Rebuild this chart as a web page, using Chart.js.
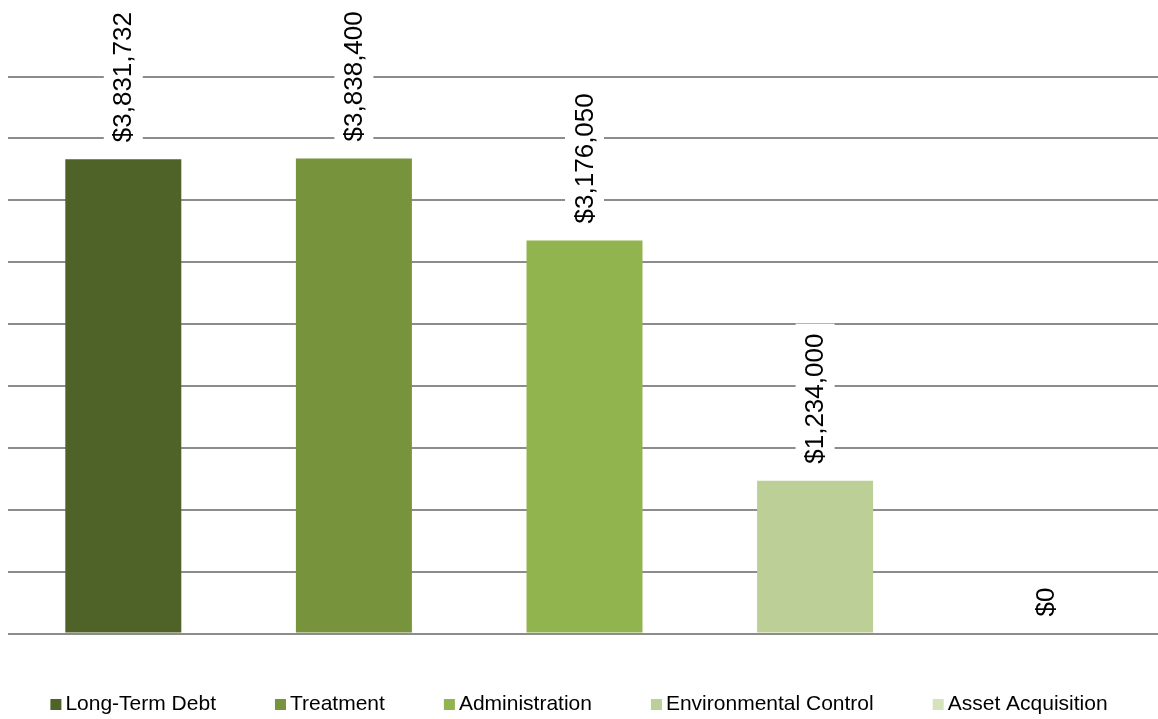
<!DOCTYPE html>
<html><head><meta charset="utf-8">
<script src="https://cdn.jsdelivr.net/npm/chart.js@4/dist/chart.umd.min.js"></script>
<style>
html,body{margin:0;padding:0;background:#fff;overflow:hidden;}
#wrap{position:relative;width:1162px;height:719px;}
</style></head><body>
<div id="wrap"><canvas id="c"></canvas></div>
<script>
const categories = ["Long-Term Debt", "Treatment", "Administration", "Environmental Control", "Asset Acquisition"];
const values = [3831732, 3838400, 3176050, 1234000, 0];
const colors = ["#4F6228", "#77933C", "#92B44E", "#BBCF97", "#D5E3BC"];
const yMin = 0;
const yMax = 4500000;
const yStep = 500000;

const FONT = '"Liberation Sans", Arial, sans-serif';

const valueLabelPlugin = {
  id: 'valueLabels',
  afterDatasetsDraw(chart) {
    const ctx = chart.ctx;
    const meta = chart.getDatasetMeta(0);
    const yScale = chart.scales.y;
    const area = chart.chartArea;
    ctx.save();
    // axis line drawn over the bar bases
    const y0 = Math.round(yScale.getPixelForValue(0));
    ctx.strokeStyle = '#8c8c8c';
    ctx.lineWidth = 2;
    ctx.beginPath();
    ctx.moveTo(area.left, y0);
    ctx.lineTo(area.right, y0);
    ctx.stroke();
    ctx.font = '26px ' + FONT;
    meta.data.forEach((bar, i) => {
      const txt = '$' + values[i].toLocaleString('en-US');
      const w = ctx.measureText(txt).width;
      ctx.save();
      ctx.translate(bar.x, bar.y - 17);
      ctx.rotate(-Math.PI / 2);
      ctx.fillStyle = '#ffffff';
      ctx.fillRect(-10, -19.5, w + 20, 39);
      ctx.fillStyle = '#000000';
      ctx.textAlign = 'left';
      ctx.textBaseline = 'middle';
      ctx.fillText(txt, 0, 1);
      ctx.restore();
    });
    ctx.restore();
  }
};

const legendPlugin = {
  id: 'bottomLegend',
  afterDraw(chart) {
    const ctx = chart.ctx;
    ctx.save();
    ctx.font = '21px ' + FONT;
    const box = 11, tgap = 4, gap = 59;
    const widths = categories.map(t => ctx.measureText(t).width);
    const total = widths.reduce((a, w) => a + box + tgap + w, 0) + gap * (categories.length - 1);
    let x = 579 - total / 2;
    const base = 710;
    categories.forEach((t, i) => {
      ctx.fillStyle = colors[i];
      ctx.fillRect(x, base - 11, box, box);
      ctx.fillStyle = '#000000';
      ctx.textAlign = 'left';
      ctx.textBaseline = 'alphabetic';
      ctx.fillText(t, x + box + tgap, base);
      x += box + tgap + widths[i] + gap;
    });
    ctx.restore();
  }
};

new Chart(document.getElementById('c'), {
  type: 'bar',
  data: {
    labels: categories,
    datasets: [{
      data: values,
      backgroundColor: colors,
      borderWidth: 0,
      barPercentage: 0.503,
      categoryPercentage: 1.0
    }]
  },
  options: {
    responsive: true,
    maintainAspectRatio: false,
    animation: false,
    events: [],
    layout: { padding: { top: 76.5, bottom: 85.5, left: 8, right: 1 } },
    plugins: { legend: { display: false }, tooltip: { enabled: false } },
    scales: {
      x: {
        grid: { display: false, drawTicks: false },
        border: { display: false },
        ticks: { display: false }
      },
      y: {
        min: yMin,
        max: yMax,
        ticks: { display: false, stepSize: yStep },
        grid: { color: '#8c8c8c', lineWidth: 2, drawTicks: false },
        border: { display: false }
      }
    }
  },
  plugins: [valueLabelPlugin, legendPlugin]
});
</script>
</body></html>
